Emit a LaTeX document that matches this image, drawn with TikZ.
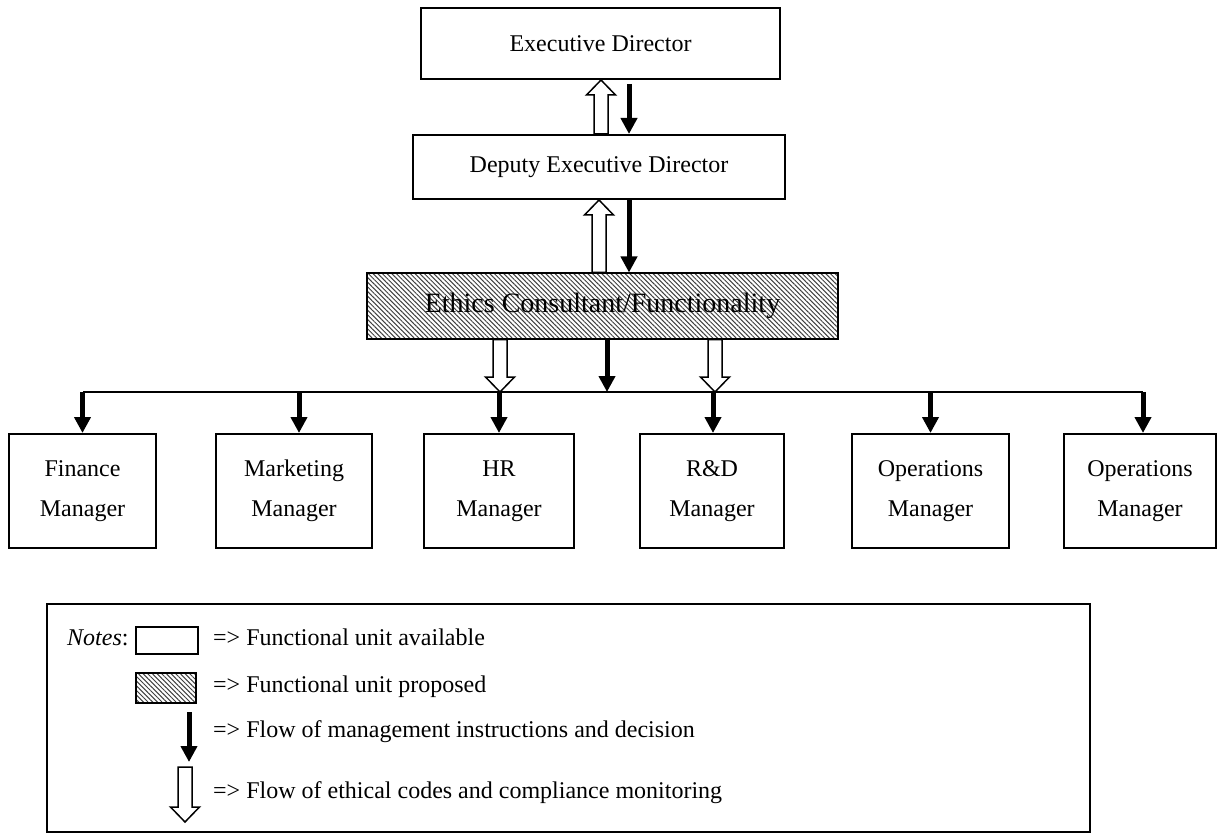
\documentclass[tikz,border=0pt]{standalone}
\usepackage{fontspec}
\setmainfont{Liberation Serif}
\usetikzlibrary{calc,arrows.meta,patterns.meta}

\newcommand{\hollowarr}[2]{%
  \draw[hollow] let \p1=(#1), \p2=(#2), \n1={sign(\y2-\y1)} in
    (\x1-7pt,\y1) -- (\x1-7pt,\y2-\n1*15pt) -- (\x1-14.5pt,\y2-\n1*15pt) -- (\x1,\y2)
    -- (\x1+14.5pt,\y2-\n1*15pt) -- (\x1+7pt,\y2-\n1*15pt) -- (\x1+7pt,\y1) -- cycle;}

\begin{document}
\begin{tikzpicture}[x=1pt,y=-1pt,
  unitbox/.style={draw, line width=2pt, align=center, inner sep=0pt,
    font=\fontsize{24}{40}\selectfont},
  hatchbox/.style={unitbox, pattern={Lines[angle=-45,distance=3.3pt,line width=1pt]},
    pattern color=black!75},
  mgr/.style={unitbox, minimum height=114pt},
  blk/.style={line width=5pt, -{Triangle[width=16pt,length=16pt]}},
  hollow/.style={draw, fill=white, line width=1.5pt, line join=miter},
  bus/.style={line width=1.6pt},
  legtext/.style={anchor=base west, inner sep=0pt, font=\fontsize{24}{40}\selectfont}]
\useasboundingbox (0,0) rectangle (1218,834);

% top chain
\node[unitbox, minimum width=359pt, minimum height=71pt] (ed) at (600.5,43.5) {Executive Director};
\node[unitbox, minimum width=372pt, minimum height=64pt] (ded) at (599,167) {Deputy Executive Director};
\node[hatchbox, minimum width=471pt, minimum height=66pt, font=\fontsize{28}{34}\selectfont] (eth) at (602.5,306) {Ethics Consultant/Functionality};

% managers
\node[mgr, minimum width=147pt] (fin) at (82.5,491) {Finance\\Manager};
\node[mgr, minimum width=156pt] (mkt) at (294,491) {Marketing\\Manager};
\node[mgr, minimum width=150pt] (hr) at (499,491) {HR\\Manager};
\node[mgr, minimum width=144pt] (rd) at (712,491) {R\&D\\Manager};
\node[mgr, minimum width=157pt] (op1) at (930.5,491) {Operations\\Manager};
\node[mgr, minimum width=152pt] (op2) at (1140,491) {Operations\\Manager};

% arrows between top boxes
\hollowarr{$(ded.north)+(2,0)$}{$(ded.north |- ed.south)+(2,0)$}
\draw[blk] ($([xshift=30pt]ded.north |- ed.south)+(0,4)$) -- ([xshift=30pt]ded.north);
\hollowarr{ded.south |- eth.north}{ded.south}
\draw[blk] ([xshift=30pt]ded.south) -- ([xshift=30pt]ded.south |- eth.north);

% bus
\coordinate (busL) at (83,392);
\coordinate (busR) at (1143,392);
\draw[bus] (busL) -- (busR);

% from ethics down to bus
\hollowarr{$(hr.north |- eth.south)+(1,0)$}{$(hr.north |- busL)+(1,0)$}
\hollowarr{$(rd.north |- eth.south)+(3,0)$}{$(rd.north |- busL)+(3,0)$}
\draw[blk] ($(eth.south)+(4.5,0)$) -- ($(eth.south |- busL)+(4.5,0)$);

% bus to managers
\draw[blk] (fin.north |- busL) -- (fin.north);
\draw[blk] ([xshift=5pt]mkt.north |- busL) -- ([xshift=5pt]mkt.north);
\draw[blk] (hr.north |- busL) -- (hr.north);
\draw[blk] ([xshift=1pt]rd.north |- busL) -- ([xshift=1pt]rd.north);
\draw[blk] (op1.north |- busL) -- (op1.north);
\draw[blk] (busR) -- (busR |- op2.north);

% legend
\node[draw, line width=2pt, minimum width=1043pt, minimum height=228pt, inner sep=0pt] (legend) at (568.5,718) {};
\node[legtext] (notes) at (67,645) {\textit{Notes}:};
\node[unitbox, minimum width=62pt, minimum height=27pt] (lbox) at (167,640.5) {};
\node[hatchbox, minimum width=60pt, minimum height=30pt] (lhatch) at (166,688) {};
\coordinate (lk1) at (189,712);
\coordinate (lk2) at (189,762);
\draw[blk] (lk1) -- (lk2);
\coordinate (lh1) at (185,767);
\coordinate (lh2) at (185,822);
\hollowarr{lh1}{lh2}
\node[legtext] (t1) at (213,645) {=> Functional unit available};
\node[legtext] (t2) at (213,692) {=> Functional unit proposed};
\node[legtext] (t3) at (213,737) {=> Flow of management instructions and decision};
\node[legtext] (t4) at (213,798) {=> Flow of ethical codes and compliance monitoring};
\end{tikzpicture}
\end{document}
